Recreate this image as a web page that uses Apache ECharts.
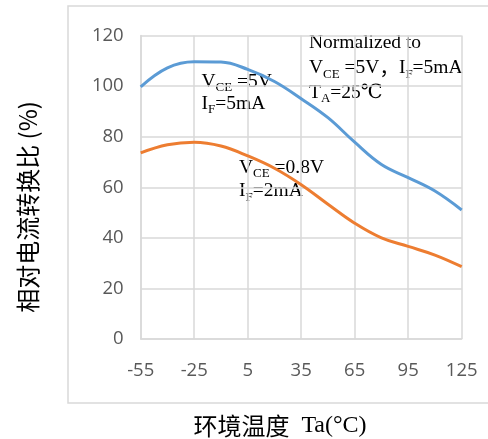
<!DOCTYPE html>
<html><head><meta charset="utf-8">
<script src="https://cdn.jsdelivr.net/npm/echarts@6/dist/echarts.min.js"></script>
<style>html,body{margin:0;padding:0;background:#fff}#c{width:488px;height:439px}</style>
</head><body><div id="c"></div>
<script>
const temps = [-55, -40, -25, -10, 5, 20, 35, 50, 65, 80, 95, 110, 125];
const vce5V = [99.7, 107.2, 109.6, 109.5, 106.6, 101.8, 95.0, 87.5, 77.8, 69.0, 63.8, 58.5, 51.0];
const vce08V = [73.6, 76.8, 77.8, 76.3, 72.4, 67.5, 61.0, 53.3, 45.8, 40.0, 36.6, 33.2, 28.6];
const xTickLabels = ['-55', '-25', '5', '35', '65', '95', '125'];
const yTickLabels = ['0', '20', '40', '60', '80', '100', '120'];

// x axis is measured from the first tick (-55 °C) so that the 30° interval starts at a multiple of it
const X0 = -55, XSTEP = 30;
const chart = echarts.init(document.getElementById('c'), null, {renderer: 'canvas'});
const serif = '"Liberation Serif", "DejaVu Serif", serif';
const sub = {fontSize: 13, fontFamily: serif, color: '#000', verticalAlign: 'bottom', padding: [0, 0, -3, 0]};
const main = {fontSize: 19.5, fontFamily: serif, color: '#000'};
const cjk = {fontSize: 19.5, fontFamily: '"Noto Sans CJK SC", sans-serif', color: '#000'};
const tickFont = {color: '#595959', fontSize: 18.5, fontFamily: '"Open Sans", sans-serif'};
chart.setOption({
  animation: false,
  grid: {left: 140.7, right: 26.3, top: 35.5, bottom: 100},
  xAxis: {
    type: 'value', min: 0, max: 180, interval: XSTEP,
    axisLine: {show: true, lineStyle: {color: '#d9d9d9', width: 1.5}},
    axisTick: {show: false},
    axisLabel: Object.assign({margin: 22, formatter: v => xTickLabels[Math.round(v / XSTEP)]}, tickFont),
    splitLine: {show: true, lineStyle: {color: '#d9d9d9', width: 1.5}}
  },
  yAxis: {
    type: 'value', min: 0, max: 120, interval: 20,
    axisLine: {show: true, lineStyle: {color: '#d9d9d9', width: 1.5}},
    axisTick: {show: false},
    axisLabel: Object.assign({margin: 17, formatter: v => yTickLabels[Math.round(v / 20)]}, tickFont),
    splitLine: {show: true, lineStyle: {color: '#d9d9d9', width: 1.5}}
  },
  series: [
    {type: 'line', smooth: 0.4, symbol: 'none', data: temps.map((t, i) => [t - X0, vce5V[i]]),
     lineStyle: {color: '#5b9bd5', width: 3}},
    {type: 'line', smooth: 0.4, symbol: 'none', data: temps.map((t, i) => [t - X0, vce08V[i]]),
     lineStyle: {color: '#ed7d31', width: 3}}
  ],
  graphic: [
    {type: 'rect', shape: {x: 68, y: 6, width: 440, height: 397}, style: {fill: 'none', stroke: '#d9d9d9', lineWidth: 1.5}, z: -10},
    {type: 'text', left: 309, top: 32.5, style: {text: 'Normalized to', font: '19.5px ' + serif, fill: '#000'}},
    {type: 'text', left: 309, top: 58, style: {text: '{m|V}{s|CE}{m| =5V}{c|，}{m|I}{s|F}{m|=5mA}', rich: {m: main, s: sub, c: cjk}}},
    {type: 'text', left: 309, top: 82.5, style: {text: '{m|T}{s|A}{m|=25℃}', rich: {m: main, s: sub}}},
    {type: 'text', left: 201.5, top: 71.5, style: {text: '{m|V}{s|CE}{m| =5V}', rich: {m: main, s: sub}}},
    {type: 'text', left: 201.5, top: 93.5, style: {text: '{m|I}{s|F}{m|=5mA}', rich: {m: main, s: sub}}},
    {type: 'text', left: 239, top: 157.5, style: {text: '{m|V}{s|CE}{m| =0.8V}', rich: {m: main, s: sub}}},
    {type: 'text', left: 239, top: 181, style: {text: '{m|I}{s|F}{m|=2mA}', rich: {m: main, s: sub}}},
    {type: 'text', x: 28, y: 207, rotation: Math.PI / 2, style: {text: '相对电流转换比 (%)', font: '24px "Noto Sans CJK SC", sans-serif', fill: '#000', align: 'center', verticalAlign: 'middle'}},
    {type: 'text', x: 280, y: 426, style: {text: '{c|环境温度}{t|  Ta(°C)}', align: 'center', verticalAlign: 'middle',
      rich: {c: {fontSize: 24, fontFamily: '"Noto Sans CJK SC", sans-serif', color: '#000'}, t: {fontSize: 24, fontFamily: serif, color: '#000'}}}}
  ]
});
</script></body></html>
